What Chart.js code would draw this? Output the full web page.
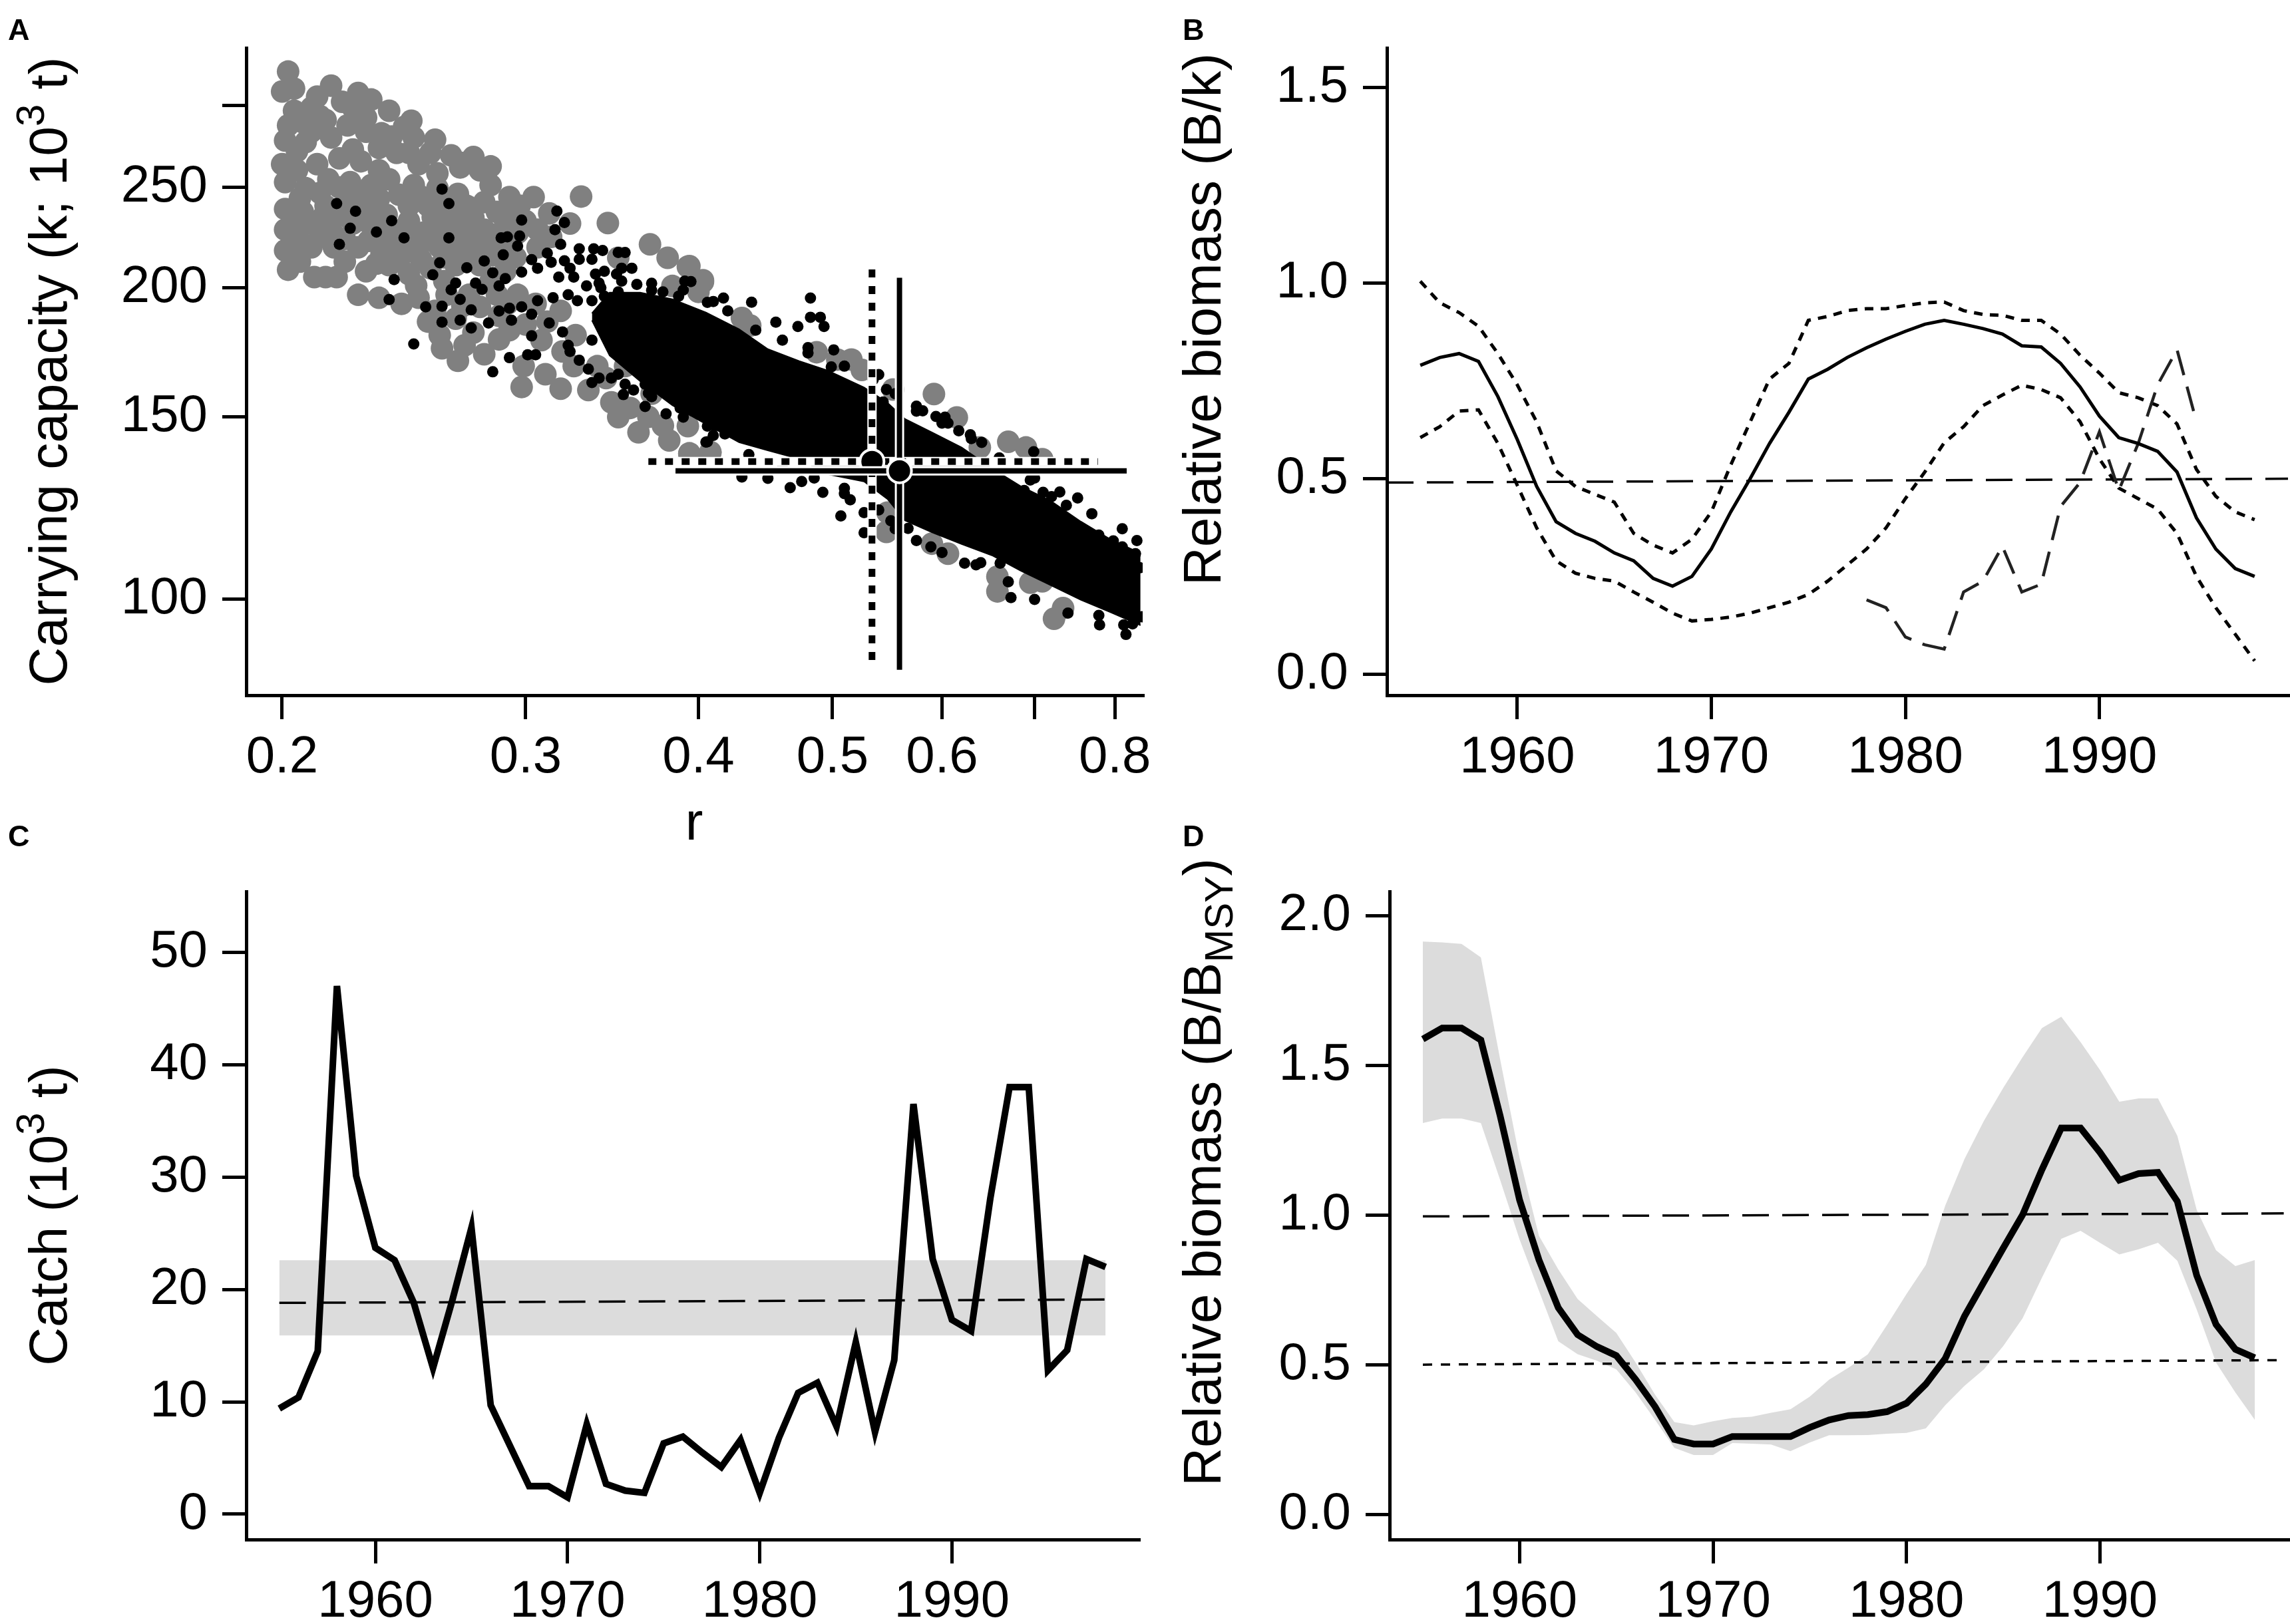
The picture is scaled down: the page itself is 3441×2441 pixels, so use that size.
<!DOCTYPE html>
<html>
<head>
<meta charset="utf-8">
<title>Surplus production model - four panels</title>
<script src="https://cdn.jsdelivr.net/npm/chart.js@4.4.1/dist/chart.umd.min.js"></script>
<style>
  html, body { margin: 0; padding: 0; background: #fff; }
  #page { position: relative; width: 3441px; height: 2441px; background: #fff; overflow: hidden; }
  #page canvas { position: absolute; }
</style>
</head>
<body>
<div id="page">
  <canvas id="panelA" width="1750" height="1300" style="left:0px;top:0px"></canvas>
  <canvas id="panelB" width="1691" height="1300" style="left:1750px;top:0px"></canvas>
  <canvas id="panelC" width="1750" height="1241" style="left:0px;top:1200px"></canvas>
  <canvas id="panelD" width="1691" height="1241" style="left:1750px;top:1200px"></canvas>
</div>
<script>
// ---------- panel A : draws of r and k ----------
// prior draws (grey) and posterior draws (black), [r, k]
const grayPoints = [
  [0.202,323.5],[0.200,309.5],[0.204,311.5],[0.217,313.5],[0.227,308.5],[0.221,302.5],[0.204,296.5],[0.210,298.5],[0.225,298.5],[0.239,296.5],
  [0.202,287],[0.207,289],[0.215,290.5],[0.223,287],[0.245,286],[0.201,277.5],[0.208,276.6],[0.217,279.4],[0.230,283],[0.236,282],
  [0.249,279.4],[0.256,270],[0.265,268.5],[0.275,267.5],[0.200,263.3],[0.205,259.7],[0.212,263.3],[0.220,266.7],[0.228,265],[0.235,259.7],
  [0.242,270],[0.251,263.3],[0.259,258],[0.269,261.4],[0.278,259.7],[0.283,251.3],[0.201,253],[0.208,249.6],[0.216,254.6],[0.224,253],
  [0.232,251.3],[0.239,254.6],[0.249,251.3],[0.259,249.6],[0.268,246.4],[0.292,244.7],[0.304,244.7],[0.329,245],[0.201,238.3],[0.207,236.8],
  [0.215,240],[0.223,243.1],[0.230,238.3],[0.238,235.2],[0.247,240],[0.255,240],[0.264,236.8],[0.275,233.7],[0.286,236.8],[0.297,240],
  [0.201,227.6],[0.208,230.7],[0.217,227.6],[0.225,230.7],[0.235,224.6],[0.244,227.6],[0.253,226.1],[0.261,230.7],[0.269,227.6],[0.280,227.6],
  [0.290,230.7],[0.306,227.6],[0.323,230.7],[0.344,231],[0.201,217.3],[0.210,218.8],[0.218,218.8],[0.227,218.8],[0.236,215.9],[0.244,217.3],
  [0.251,218.8],[0.260,218.8],[0.269,218.8],[0.278,218.8],[0.289,221.8],[0.306,218.8],[0.369,220.3],[0.350,213.8],[0.202,208.2],[0.211,204.8],
  [0.215,204.8],[0.219,204.8],[0.230,207.5],[0.239,210.3],[0.247,206.2],[0.256,208.9],[0.267,210.3],[0.278,210.3],[0.290,207.5],[0.380,213.8],
  [0.393,209.6],[0.227,196.9],[0.235,195.6],[0.244,193],[0.251,195.6],[0.263,196.9],[0.273,196.9],[0.286,196.9],[0.296,196.9],[0.255,185.5],
  [0.267,186.7],[0.278,191.7],[0.287,187.9],[0.300,184.3],[0.311,185.5],[0.261,174.8],[0.271,176],[0.280,172.5],[0.287,178.3],[0.299,168],
  [0.319,173.6],[0.298,160.4],[0.318,159.8],[0.333,159.3],[0.343,163.6],[0.325,168],[0.354,168],[0.383,200.8],[0.403,203.4],[0.400,198.2],
  [0.368,150.1],[0.377,147.2],[0.381,142.4],[0.394,138.2],[0.408,138.6],[0.357,153.1],
  [0.212,306],[0.232,304],[0.213,293],[0.230,292],[0.248,290],[0.210,283],[0.240,280],[0.258,278],[0.205,271],[0.225,272],
  [0.235,273],[0.247,270],[0.270,264],[0.283,262],[0.206,244],[0.213,247],[0.220,250],[0.228,246],[0.235,244],[0.243,246],
  [0.252,245],[0.262,242],[0.272,240],[0.280,242],[0.291,238],[0.300,232],[0.312,236],[0.205,232],[0.214,234],[0.221,235],
  [0.230,232],[0.238,230],[0.247,232],[0.257,234],[0.266,232],[0.275,225],[0.285,225],[0.296,226],[0.313,224],[0.206,222],
  [0.213,224],[0.222,223],[0.231,222],[0.240,221],[0.249,222],[0.257,224],[0.265,224],[0.284,215],[0.295,214],[0.206,212],
  [0.222,212],[0.234,211],[0.243,213],[0.252,213],[0.262,214],[0.272,214],[0.283,203],[0.262,203],[0.250,201],[0.270,192],
  [0.258,190],[0.291,193],[0.305,193],[0.318,190],[0.326,180],[0.308,178],[0.292,182],[0.275,181],[0.260,180],[0.268,170],
  [0.310,165],[0.338,168],[0.346,155],[0.362,145],[0.345,185],[0.360,178],[0.350,150],[0.370,158],
  [0.394,209.9],[0.403,202.6],[0.430,187.0],[0.436,183.9],[0.487,173.3],[0.504,170.5],[0.516,170.5],[0.525,166.6],[0.553,159.5],[0.592,157.9],
  [0.615,149.9],[0.639,140.2],[0.670,142.0],[0.690,140.2],[0.709,136.6],[0.394,138.4],[0.408,138.8],[0.393,147.0],[0.547,116.2],[0.548,121.3],
  [0.590,113.2],[0.606,110.7],[0.658,105.2],[0.658,101.8],[0.695,103.8],[0.709,104.1],[0.734,98.1],[0.723,95.8]
];
const blackPoints = [
  [0.219,241.2],[0.226,237.1],[0.224,228.3],[0.220,220.3],[0.234,226.4],[0.240,232.2],[0.245,223.5],[0.261,249.1],[0.264,241.2],[0.264,223.5],
  [0.260,211.4],[0.257,205.9],[0.272,209.1],[0.241,203.7],[0.239,194.8],[0.249,176.5],[0.254,191.7],[0.261,185.3],[0.261,192],[0.269,186.1],
  [0.274,190.4],[0.274,182.9],[0.282,184.9],[0.269,194.9],[0.265,199.1],[0.267,202.1],[0.276,202.1],[0.280,212.3],[0.279,199.3],[0.284,206.8],
  [0.287,200.8],[0.290,204.1],[0.288,223.5],[0.291,224],[0.297,224.4],[0.296,219.5],[0.289,215.2],[0.298,232.5],[0.316,237.2],[0.320,231.2],
  [0.315,227.6],[0.318,220.3],[0.303,212.9],[0.298,207.1],[0.293,186.1],[0.303,179.7],[0.292,171.2],[0.301,172.3],[0.305,172.3],[0.284,165.9],
  [0.287,189.9],[0.292,191.1],[0.298,191.7],[0.306,194.3],[0.303,188.6],[0.312,184.9],[0.319,181.3],[0.322,176],[0.323,173.6],[0.328,170.2],
  [0.333,166.9],[0.335,162],[0.339,163.6],[0.346,163.6],[0.354,161.4],[0.359,159.3],[0.353,157.7],[0.366,161.4],[0.368,158.2],[0.366,153.6],
  [0.379,151.1],[0.388,153.1],[0.396,152.1],[0.405,141.9],[0.411,147.2],[0.328,218.1],[0.336,218.1],[0.341,217.3],[0.328,213.1],[0.335,213.1],
  [0.350,216.3],[0.354,216.3],[0.352,208.9],[0.358,208.9],[0.349,206.2],[0.361,201.5],[0.395,202.8],[0.370,198.9],[0.377,198.2],[0.387,196.3],
  [0.406,193.6],[0.306,208.9],[0.311,216],[0.313,211.7],[0.320,212.4],[0.323,208.9],[0.317,204.8],[0.325,204.8],[0.337,206.2],[0.342,207.5],
  [0.332,200.8],[0.339,202.1],[0.322,196.9],[0.314,195.6],[0.327,194.3],[0.335,194.3],[0.342,196.3],[0.350,198.2],[0.359,195.6],
  [0.391,203],[0.417,195.5],[0.437,193.7],[0.482,195.5],[0.482,187.3],[0.490,187.3],[0.493,183.5],[0.472,183.5],[0.455,185.3],[0.501,174.2],
  [0.480,175.1],[0.499,167.7],[0.540,164.9],[0.547,159.5],[0.544,155.1],[0.575,153.7],[0.581,152.1],[0.594,150.2],[0.603,150],[0.606,148],
  [0.617,145.5],[0.629,144.2],[0.641,141.8],[0.699,138.9],[0.695,130.4],[0.688,127.4],[0.710,126.9],[0.720,125.7],[0.752,125.3],[0.738,123.3],
  [0.779,115.4],[0.798,113.9],[0.810,112.4],[0.828,110.7],[0.834,107.3],[0.430,131.3],[0.449,130.9],[0.466,128.2],[0.475,130],[0.492,126.9],
  [0.510,126.5],[0.515,124.8],[0.507,120.4],[0.527,121.3],[0.527,116],[0.551,119.1],[0.567,117.1],[0.589,112.4],[0.623,108.4],[0.640,108.5],
  [0.661,108.4],[0.673,100.4],[0.779,96.5],[0.812,94.5],[0.824,94.7],[0.837,96.2],[0.392,152.6],[0.406,147],[0.411,147.2],[0.418,144.5],[0.406,142],
  [0.340,200],[0.352,203],[0.370,202],[0.390,199],[0.410,194],[0.420,190],[0.440,182],[0.460,178],[0.480,173],[0.510,168],
  [0.535,163],[0.555,158],[0.575,152],[0.600,148],[0.630,143],[0.660,137],[0.700,131],[0.730,127],[0.770,121],[0.810,117],[0.830,114],
  [0.335,178],[0.350,165],[0.370,157],[0.390,150],[0.410,144],[0.435,138],[0.460,135],[0.485,131],[0.510,128],[0.540,122],
  [0.555,117],[0.575,114],[0.600,111],[0.635,108],[0.670,104],[0.700,100],[0.740,97],[0.780,94.5],[0.815,92.5]
];
// outline of the solid mass of overlapping posterior draws
const coreR      = [0.335,0.345,0.363,0.383,0.405,0.428,0.449,0.473,0.496,0.527,0.548,0.564,0.590,0.620,0.652,0.684,0.719,0.756,0.794,0.835];
const coreTop    = [189.0,197.9,197.9,195.0,189.3,182.4,174.5,169.9,166.4,160.2,154.8,149.4,145.0,140.2,133.8,128.6,124.5,118.9,114.3,110.8];
const coreBottom = [186.0,172.0,162.5,154.0,147.7,141.8,139.3,136.7,132.1,130.0,125.0,119.2,116.1,113.1,110.3,106.6,103.2,99.9,97.2,94.4];
// point estimates with 95% intervals
const estR = 0.559, estK = 133.1, estRci = [0.385, 0.816], estKci = [85.5, 204.5];
const altR = 0.534, altK = 135.9, altRci = [0.368, 0.778], altKci = [87.4, 208.7];
const rTicks = [0.2, 0.3, 0.4, 0.5, 0.6, 0.7, 0.8];
const kTicks = [100, 150, 200, 250, 300];

// ---------- time series ----------
const years = [1955,1956,1957,1958,1959,1960,1961,1962,1963,1964,1965,1966,1967,1968,1969,1970,1971,1972,1973,1974,1975,1976,
               1977,1978,1979,1980,1981,1982,1983,1984,1985,1986,1987,1988,1989,1990,1991,1992,1993,1994,1995,1996,1997,1998];
const yearTicks = [1960, 1970, 1980, 1990];

// panel B : B/k
const bkMedian = [0.79,0.81,0.82,0.80,0.71,0.60,0.48,0.39,0.36,0.34,0.31,0.29,0.245,0.225,0.25,0.32,0.415,0.50,0.59,0.67,0.755,0.78,
                  0.81,0.835,0.857,0.877,0.895,0.905,0.895,0.884,0.87,0.84,0.837,0.795,0.735,0.66,0.605,0.59,0.57,0.517,0.40,0.32,0.27,0.25];
const bkUpper  = [1.005,0.95,0.925,0.89,0.82,0.74,0.645,0.52,0.48,0.46,0.44,0.36,0.33,0.31,0.345,0.415,0.535,0.645,0.755,0.795,0.905,0.915,
                  0.93,0.935,0.935,0.943,0.95,0.952,0.93,0.92,0.918,0.905,0.905,0.87,0.816,0.77,0.72,0.707,0.687,0.64,0.524,0.455,0.415,0.395];
const bkLower  = [0.605,0.633,0.673,0.676,0.59,0.483,0.374,0.29,0.258,0.245,0.238,0.21,0.184,0.156,0.136,0.14,0.146,0.156,0.17,0.184,0.204,0.238,
                  0.279,0.32,0.374,0.449,0.517,0.592,0.633,0.687,0.714,0.739,0.728,0.707,0.646,0.551,0.476,0.449,0.422,0.36,0.25,0.17,0.102,0.034];
const obsYears = [1978,1979,1980,1981,1982,1983,1984,1985,1986,1987,1988,1989,1990,1991,1992,1993,1994,1995];
const bkObs    = [0.19,0.17,0.095,0.075,0.064,0.21,0.238,0.327,0.21,0.23,0.429,0.49,0.62,0.47,0.59,0.74,0.83,0.646];
const bkRefX = [1953.28, 1999.72], bkRefY = [0.49, 0.50];
const bkTicks = [0, 0.5, 1.0, 1.5];

// panel C : catch (10^3 t)
const catchVals = [9.4,10.4,14.5,47.0,30.1,23.7,22.6,18.8,13.0,19.0,25.5,9.7,6.1,2.5,2.5,1.5,8.0,2.7,2.1,1.9,6.3,6.9,
                   5.5,4.2,6.6,1.9,6.8,10.8,11.7,7.8,15.3,7.3,13.7,36.5,22.7,17.3,16.3,28.1,38.0,38.0,12.8,14.6,22.7,22.0];
const msyX = [1955, 1998], msyMean = [18.8, 19.1], msyLow = [15.9, 15.9], msyHigh = [22.6, 22.6];
const catchTicks = [0, 10, 20, 30, 40, 50];

// panel D : B/Bmsy
const bbMedian = [1.587,1.624,1.624,1.584,1.33,1.05,0.85,0.69,0.60,0.56,0.53,0.45,0.36,0.25,0.235,0.235,0.26,0.26,0.26,0.26,0.29,0.315,
                  0.33,0.333,0.343,0.371,0.435,0.52,0.662,0.776,0.889,1.0,1.151,1.29,1.29,1.209,1.116,1.138,1.142,1.045,0.798,0.634,0.551,0.523];
const bbUpper  = [1.913,1.91,1.905,1.86,1.518,1.19,0.93,0.818,0.719,0.662,0.606,0.507,0.40,0.308,0.297,0.311,0.322,0.326,0.339,0.351,0.393,0.45,
                  0.49,0.534,0.633,0.736,0.833,1.031,1.187,1.314,1.424,1.527,1.624,1.662,1.577,1.484,1.378,1.389,1.389,1.264,1.017,0.882,0.829,0.849];
const bbLower  = [1.307,1.322,1.322,1.307,1.116,0.918,0.747,0.578,0.535,0.513,0.484,0.407,0.316,0.222,0.198,0.198,0.238,0.236,0.233,0.211,0.24,0.264,
                  0.264,0.265,0.269,0.272,0.287,0.364,0.429,0.484,0.562,0.655,0.79,0.92,0.947,0.907,0.868,0.885,0.907,0.847,0.684,0.507,0.407,0.316];
const bbRefX = [1955, 1999.5], bbOne = [0.995, 1.005], bbHalf = [0.50, 0.515];
const bbTicks = [0, 0.5, 1.0, 1.5, 2.0];

// ---------- helpers ----------
const FAMILY = "'Liberation Sans', Arial, Helvetica, sans-serif";
Chart.defaults.font.family = FAMILY;
Chart.defaults.color = '#000';

const pairs = (xs, ys) => xs.map((x, i) => ({x: x, y: ys[i]}));
const pts = list => list.map(p => ({x: p[0], y: p[1]}));

function axis(type, min, max, values, fmt, size, pad) {
  return {
    type: type, min: min, max: max,
    afterBuildTicks: s => { s.ticks = values.map(v => ({value: v})); },
    afterFit: s => {
      if (s.isHorizontal()) s.height = size; else s.width = size;
      s.paddingLeft = s.paddingRight = s.paddingTop = s.paddingBottom = 0;
    },
    grid: {display: true, drawOnChartArea: false, drawTicks: true, tickLength: 36,
           tickWidth: 5, tickColor: '#000', color: '#000', lineWidth: 5},
    border: {display: true, color: '#000', width: 5},
    ticks: {autoSkip: false, maxRotation: 0, minRotation: 0, padding: pad, color: '#000',
            font: {size: 78, lineHeight: 1}, callback: v => fmt(v)}
  };
}

function line(data, color, width, dash, order, extra) {
  return Object.assign({data: data, borderColor: color, borderWidth: width, borderDash: dash || [],
    pointRadius: 0, fill: false, showLine: true, order: order}, extra || {});
}

// text drawn onto each panel: panel letter, axis titles with sub/superscripts
function panelText(items) {
  return {
    id: 'panelText',
    afterDraw(chart) {
      const ctx = chart.ctx;
      items.forEach(item => {
        ctx.save();
        ctx.translate(item.x, item.y);
        if (item.rotate) ctx.rotate(-Math.PI / 2);
        ctx.fillStyle = '#000';
        ctx.textBaseline = 'alphabetic';
        ctx.textAlign = 'left';
        const fontFor = p => (item.bold ? 'bold ' : '') +
          Math.round(item.size * (p.sup || p.sub ? 0.75 : 1)) + 'px ' + FAMILY;
        let total = 0;
        item.parts.forEach(p => { ctx.font = fontFor(p); total += ctx.measureText(p.t).width; });
        let x = item.align === 'left' ? 0 : -total / 2;
        item.parts.forEach(p => {
          ctx.font = fontFor(p);
          const dy = p.sup ? -0.42 * item.size : (p.sub ? 0.22 * item.size : 0);
          ctx.fillText(p.t, x, dy);
          x += ctx.measureText(p.t).width;
        });
        ctx.restore();
      });
    }
  };
}

function baseOptions(xAxis, yAxis, padding) {
  return {
    responsive: false, animation: false, devicePixelRatio: 1, events: [],
    layout: {padding: padding},
    scales: {x: xAxis, y: yAxis},
    plugins: {legend: {display: false}, tooltip: {enabled: false}},
    elements: {line: {tension: 0}}
  };
}

const noBorder = 'rgba(0,0,0,0)';

// ---------- panel A ----------
new Chart(document.getElementById('panelA'), {
  type: 'scatter',
  data: {
    datasets: [
      {data: pts(grayPoints), pointRadius: 17, pointBackgroundColor: '#808080', pointBorderWidth: 0, order: 9},
      line(pairs(coreR, coreTop), '#000', 2, null, 8, {fill: '+1', backgroundColor: '#000'}),
      line(pairs(coreR, coreBottom), '#000', 2, null, 8),
      {data: pts(blackPoints), pointRadius: 8.5, pointBackgroundColor: '#000', pointBorderWidth: 0, order: 7},
      line(pairs(altRci, [altK, altK]), '#fff', 14, null, 6),
      line(pairs([altR, altR], altKci), '#fff', 14, null, 6),
      line(pairs(altRci, [altK, altK]), '#000', 10, [12, 13], 5),
      line(pairs([altR, altR], altKci), '#000', 10, [12, 13], 5),
      {data: [{x: altR, y: altK}], pointRadius: 18, pointBackgroundColor: '#000', pointBorderColor: '#fff', pointBorderWidth: 4, order: 4},
      line(pairs(estRci, [estK, estK]), '#fff', 14, null, 3),
      line(pairs([estR, estR], estKci), '#fff', 14, null, 3),
      line(pairs(estRci, [estK, estK]), '#000', 8, null, 2),
      line(pairs([estR, estR], estKci), '#000', 8, null, 2),
      {data: [{x: estR, y: estK}], pointRadius: 18, pointBackgroundColor: '#000', pointBorderColor: '#fff', pointBorderWidth: 4, order: 1}
    ]
  },
  options: baseOptions(
    axis('logarithmic', 0.1884, 0.838, rTicks, v => (v === 0.7 ? '' : v.toFixed(1)), 255, 19),
    axis('logarithmic', 80.8, 341, kTicks, v => (v === 300 ? '' : String(v)), 370, 22),
    {left: 0, right: 33, top: 72, bottom: 0}),
  plugins: [panelText([
    {parts: [{t: 'A'}], x: 12, y: 60, size: 45, bold: true, align: 'left'},
    {parts: [{t: 'Carrying capacity (k; 10'}, {t: '3', sup: true}, {t: ' t)'}], x: 100, y: 558, size: 80, rotate: true},
    {parts: [{t: 'r'}], x: 1043, y: 1262, size: 80}
  ])]
});

// ---------- panel B ----------
new Chart(document.getElementById('panelB'), {
  type: 'line',
  data: {
    datasets: [
      line(pairs(bkRefX, bkRefY), '#000', 3.5, [40, 20], 5),
      line(pairs(years, bkUpper), '#000', 5, [13, 11], 4),
      line(pairs(years, bkLower), '#000', 5, [13, 11], 4),
      line(pairs(obsYears, bkObs), '#222', 4.5, [38, 18], 3),
      line(pairs(years, bkMedian), '#000', 5, null, 1)
    ]
  },
  options: baseOptions(
    axis('linear', 1953.28, 1999.72, yearTicks, v => String(v), 255, 19),
    axis('linear', -0.054, 1.602, bkTicks, v => v.toFixed(1), 334, 22),
    {left: 0, right: 3, top: 72, bottom: 0}),
  plugins: [panelText([
    {parts: [{t: 'B'}], x: 27, y: 60, size: 45, bold: true, align: 'left'},
    {parts: [{t: 'Relative biomass (B/k)'}], x: 84, y: 480, size: 80, rotate: true}
  ])]
});

// ---------- panel C ----------
new Chart(document.getElementById('panelC'), {
  type: 'line',
  data: {
    datasets: [
      line(pairs(msyX, msyLow), noBorder, 1, null, 5),
      line(pairs(msyX, msyHigh), noBorder, 1, null, 4, {fill: '-1', backgroundColor: '#DCDCDC'}),
      line(pairs(msyX, msyMean), '#000', 3.5, [40, 20], 2),
      line(pairs(years, catchVals), '#000', 10, null, 1)
    ]
  },
  options: baseOptions(
    axis('linear', 1953.28, 1999.72, yearTicks, v => String(v), 127, 19),
    axis('linear', -2.25, 55.4, catchTicks, v => String(v), 370, 22),
    {left: 0, right: 39, top: 140, bottom: 0}),
  plugins: [panelText([
    {parts: [{t: 'C'}], x: 12, y: 72, size: 45, bold: true, align: 'left'},
    {parts: [{t: 'Catch (10'}, {t: '3', sup: true}, {t: ' t)'}], x: 100, y: 627, size: 80, rotate: true}
  ])]
});

// ---------- panel D ----------
new Chart(document.getElementById('panelD'), {
  type: 'line',
  data: {
    datasets: [
      line(pairs(years, bbLower), noBorder, 1, null, 6),
      line(pairs(years, bbUpper), noBorder, 1, null, 5, {fill: '-1', backgroundColor: '#DCDCDC'}),
      line(pairs(bbRefX, bbOne), '#000', 3.5, [40, 20], 3),
      line(pairs(bbRefX, bbHalf), '#000', 3.5, [14, 13], 3),
      line(pairs(years, bbMedian), '#000', 10, null, 1)
    ]
  },
  options: baseOptions(
    axis('linear', 1953.28, 1999.72, yearTicks, v => String(v), 127, 19),
    axis('linear', -0.084, 2.08, bbTicks, v => v.toFixed(1), 338, 22),
    {left: 0, right: 3, top: 140, bottom: 0}),
  plugins: [panelText([
    {parts: [{t: 'D'}], x: 27, y: 72, size: 45, bold: true, align: 'left'},
    {parts: [{t: 'Relative biomass (B/B'}, {t: 'MSY', sub: true}, {t: ')'}], x: 84, y: 562, size: 80, rotate: true}
  ])]
});
</script>
</body>
</html>
